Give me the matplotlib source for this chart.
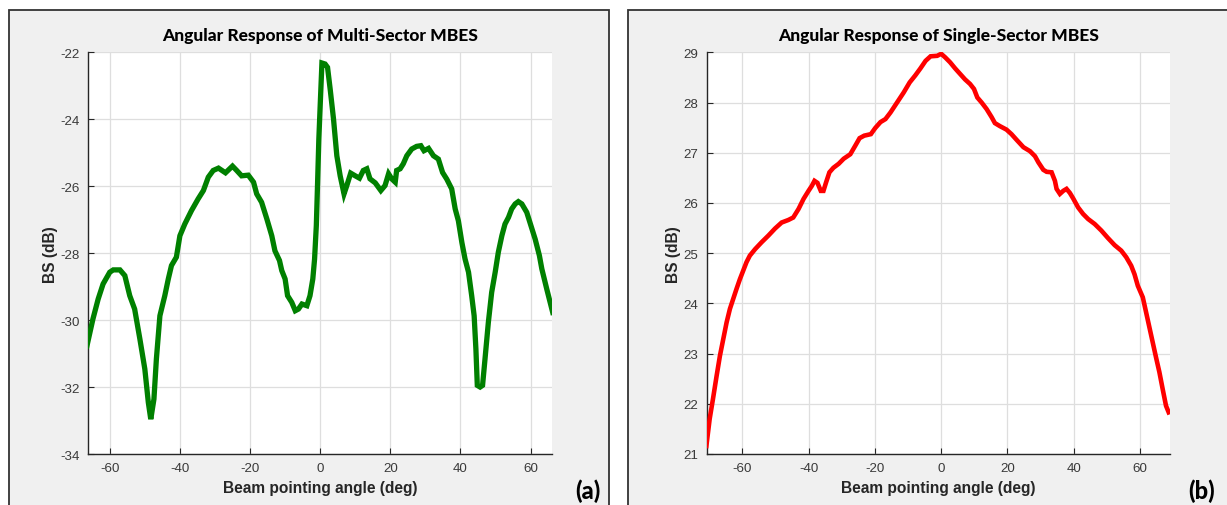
import matplotlib
matplotlib.use("Agg")
import matplotlib.pyplot as plt
from matplotlib.patches import Rectangle

plt.rcParams["axes.unicode_minus"] = False

# ---- Data: Multi-sector MBES angular response ----
multi_angle = [-66.5, -64.8, -63.3, -61.9, -60.0, -59.0, -57.1, -55.7, -54.3, -52.9,
               -51.4, -50.0, -49.0, -48.3, -47.4, -46.7, -45.7, -44.3, -43.3, -42.4,
               -41.0, -40.0, -38.6, -36.7, -34.8, -33.3, -31.9, -30.5, -29.0, -27.0,
               -25.0, -23.8, -22.4, -20.5, -19.0, -18.1, -16.7, -15.2, -13.8, -12.9,
               -11.6, -10.95, -10.0, -9.3, -8.1, -7.1, -6.2, -5.2, -3.8, -2.9,
               -2.1, -1.6, -1.1, -0.76, -0.38, 0.0, 0.5, 1.4, 2.1, 2.85,
               3.8, 4.75, 5.7, 6.8, 7.6, 8.7, 10.0, 11.2, 12.3, 13.3,
               14.2, 15.7, 17.3, 18.5, 19.5, 20.4, 21.4, 21.8, 22.8, 23.7,
               24.7, 26.1, 27.5, 28.7, 29.6, 30.9, 32.3, 33.7, 34.9, 36.1,
               37.5, 38.5, 39.4, 40.4, 41.3, 42.3, 43.2, 43.9, 44.4, 44.8,
               45.6, 46.3, 47.0, 47.95, 48.9, 49.9, 50.8, 51.8, 52.7, 53.7,
               54.6, 55.6, 56.5, 57.5, 58.9, 59.8, 61.3, 62.5, 63.2, 64.6, 66.3]
multi_bs = [-30.77, -29.97, -29.37, -28.92, -28.57, -28.50, -28.50, -28.67, -29.27, -29.67,
            -30.57, -31.46, -32.46, -32.96, -32.36, -31.16, -29.87, -29.27, -28.77, -28.37,
            -28.12, -27.48, -27.13, -26.73, -26.38, -26.13, -25.73, -25.53, -25.46, -25.60,
            -25.40, -25.53, -25.69, -25.67, -25.88, -26.23, -26.48, -26.98, -27.48, -27.93,
            -28.22, -28.52, -28.77, -29.27, -29.47, -29.72, -29.67, -29.52, -29.57, -29.27,
            -28.77, -28.18, -27.18, -25.98, -24.59, -23.60, -22.32, -22.35, -22.45, -23.10,
            -23.99, -25.09, -25.69, -26.23, -25.98, -25.61, -25.69, -25.76, -25.53, -25.48,
            -25.78, -25.90, -26.13, -25.98, -25.63, -25.78, -25.88, -25.53, -25.48, -25.33,
            -25.09, -24.89, -24.81, -24.79, -24.94, -24.87, -25.09, -25.19, -25.59, -25.79,
            -26.08, -26.68, -27.03, -27.68, -28.17, -28.57, -29.27, -29.87, -30.86, -31.95,
            -32.00, -31.95, -31.16, -30.07, -29.17, -28.57, -27.97, -27.48, -27.13, -26.93,
            -26.68, -26.53, -26.46, -26.53, -26.78, -27.08, -27.58, -28.07, -28.47, -29.07, -29.77]

# ---- Data: Single-sector MBES angular response ----
single_angle = [-70.8, -69.8, -68.8, -67.7, -66.7, -65.7, -64.7, -63.7, -62.7, -61.7,
                -60.7, -59.7, -58.7, -57.7, -56.1, -54.1, -52.1, -50.1, -48.1, -46.1,
                -44.6, -43.0, -41.5, -40.0, -39.0, -38.2, -37.3, -36.3, -35.5, -34.7,
                -33.7, -32.5, -30.9, -29.4, -27.4, -25.9, -24.6, -23.2, -21.2, -19.9,
                -18.3, -16.8, -15.3, -13.3, -11.3, -9.5, -7.8, -6.25, -4.7, -3.2,
                -1.2, 0.0, 1.2, 2.7, 4.2, 5.7, 7.2, 8.7, 9.9, 10.9,
                12.2, 13.7, 15.2, 16.2, 17.7, 19.7, 21.2, 22.7, 24.8, 26.8,
                28.3, 29.3, 30.8, 31.8, 33.3, 34.3, 34.8, 35.8, 36.8, 37.8,
                38.8, 39.8, 41.3, 42.8, 44.3, 46.3, 48.3, 50.3, 52.3, 54.3,
                55.8, 57.3, 58.3, 59.3, 60.8, 61.8, 62.8, 63.8, 64.8, 65.8,
                66.8, 67.8, 68.6]
single_bs = [21.16, 21.70, 22.10, 22.56, 22.96, 23.29, 23.62, 23.89, 24.09, 24.29,
             24.48, 24.65, 24.82, 24.95, 25.08, 25.22, 25.35, 25.49, 25.61, 25.66,
             25.71, 25.88, 26.08, 26.24, 26.34, 26.44, 26.40, 26.24, 26.24, 26.41,
             26.61, 26.70, 26.78, 26.88, 26.97, 27.14, 27.29, 27.34, 27.37, 27.49,
             27.61, 27.67, 27.80, 28.00, 28.20, 28.40, 28.54, 28.68, 28.83, 28.92,
             28.93, 28.97, 28.90, 28.80, 28.68, 28.57, 28.46, 28.37, 28.27, 28.10,
             28.00, 27.87, 27.71, 27.59, 27.53, 27.46, 27.37, 27.26, 27.11, 27.03,
             26.93, 26.81, 26.66, 26.62, 26.61, 26.44, 26.28, 26.18, 26.24, 26.28,
             26.20, 26.09, 25.91, 25.78, 25.68, 25.58, 25.45, 25.30, 25.16, 25.05,
             24.92, 24.75, 24.58, 24.35, 24.12, 23.82, 23.52, 23.22, 22.92, 22.63,
             22.29, 21.96, 21.83]

multi_yticks = [-34, -32, -30, -28, -26, -24, -22]
single_yticks = [21, 22, 23, 24, 25, 26, 27, 28, 29]
xticks = [-60, -40, -20, 0, 20, 40, 60]

titles = ["Angular Response of Multi-Sector MBES", "Angular Response of Single-Sector MBES"]
xlabel = "Beam pointing angle (deg)"
ylabel = "BS (dB)"
panel_tags = ["(a)", "(b)"]

W, H = 1227, 506
fig = plt.figure(figsize=(W / 100, H / 100), dpi=100, facecolor="white")

def fx(px):
    return px / W

def fy(py):
    return 1 - py / H

# panel backgrounds
for (x0, x1) in [(9, 608.7), (627.5, 1240)]:
    fig.add_artist(Rectangle((fx(x0), fy(515)), fx(x1 - x0), (515 - 11) / H,
                             transform=fig.transFigure, facecolor="#f0f0f0",
                             edgecolor="#333333", linewidth=1.3, zorder=0))

axes_px = [(88, 552), (706.7, 1170)]
top_px, bot_px = 53.3, 455

tick_color = "#3a3a3a"
label_color = "#262626"

configs = [
    dict(x=multi_angle, y=multi_bs, color="#008000", lw=3.8, xlim=(-66.2, 66.1),
         ylim=(-34, -22), yticks=multi_yticks),
    dict(x=single_angle, y=single_bs, color="#ff0000", lw=3.3, xlim=(-70.7, 69.0),
         ylim=(21, 29), yticks=single_yticks),
]

for i, cfg in enumerate(configs):
    x0, x1 = axes_px[i]
    ax = fig.add_axes([fx(x0), fy(bot_px), fx(x1 - x0), (bot_px - top_px) / H])
    ax.set_facecolor("white")
    ax.plot(cfg["x"], cfg["y"], color=cfg["color"], lw=cfg["lw"],
            solid_joinstyle="miter", zorder=3, clip_on=True)
    ax.set_xlim(*cfg["xlim"])
    ax.set_ylim(*cfg["ylim"])
    ax.set_xticks(xticks)
    ax.set_yticks(cfg["yticks"])
    ax.grid(True, color="#dedede", linewidth=0.9)
    ax.set_axisbelow(True)
    for s in ["top", "right"]:
        ax.spines[s].set_visible(False)
    for s in ["left", "bottom"]:
        ax.spines[s].set_color("#262626")
        ax.spines[s].set_linewidth(1.0)
    ax.tick_params(direction="in", length=4, width=0.8, colors="#262626",
                   labelcolor=tick_color, labelsize=9.6, pad=6)
    for lab in ax.get_xticklabels() + ax.get_yticklabels():
        lab.set_fontfamily("Liberation Sans")
    ax.set_xlabel(xlabel, fontsize=11.2, fontweight="bold", color=label_color,
                  family="Liberation Sans", labelpad=4)
    ax.set_ylabel(ylabel, fontsize=11.2, fontweight="bold", color=label_color,
                  family="Liberation Sans", labelpad=2)
    ax.set_title(titles[i], fontsize=12.5, fontweight="black", color="black",
                 family="Lato", pad=9)

# panel tags
fig.text(fx(601), fy(491), panel_tags[0], ha="right", va="center",
         fontsize=17, fontweight="black", family="Lato", color="black")
fig.text(fx(1215), fy(491), panel_tags[1], ha="right", va="center",
         fontsize=17, fontweight="black", family="Lato", color="black")

fig.savefig("out.png", dpi=100, facecolor="white")
